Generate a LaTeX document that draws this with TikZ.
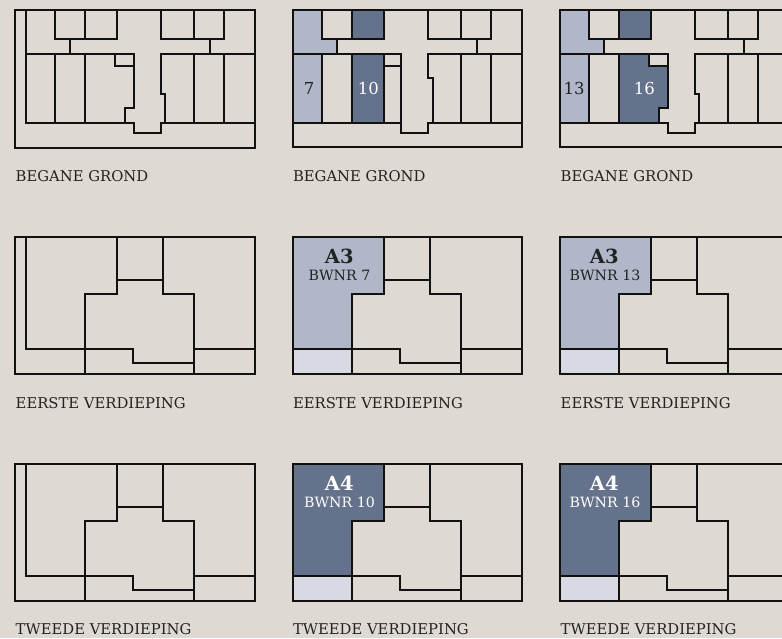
\documentclass[tikz,border=0pt]{standalone}
\usepackage{fontspec}
\setmainfont{DejaVu Serif}
\definecolor{bgc}{RGB}{223,217,211}
\definecolor{lightf}{RGB}{177,183,201}
\definecolor{darkf}{RGB}{101,114,139}
\definecolor{palef}{RGB}{216,218,227}
\definecolor{ink}{RGB}{17,17,17}
\definecolor{txt}{RGB}{34,34,34}
\newcommand\groundcommon{%
  \draw[wall] (55,9.7)--(55,39.3)--(117,39.3)--(117,9.7);
  \draw[wall] (85.3,9.7)--(85.3,39.3);
  \draw[wall] (160.7,9.7)--(160.7,39.3)--(224,39.3)--(224,9.7);
  \draw[wall] (194.3,9.7)--(194.3,39.3);
  \draw[wall] (70,39.3)--(70,53.7);
  \draw[wall] (210,39.3)--(210,53.7);
  \draw[wall] (25.7,53.7)--(133.7,53.7);
  \draw[wall] (160.7,53.7)--(255,53.7);
  \draw[wall] (55,53.7)--(55,122.7);
  \draw[wall] (85.3,53.7)--(85.3,122.7);
  \draw[wall] (194.3,53.7)--(194.3,122.7);
  \draw[wall] (224,53.7)--(224,122.7);
  \draw[wall] (25.7,122.7)--(133.7,122.7)--(133.7,133.3)--(160.7,133.3)--(160.7,122.7)--(255,122.7);
}
\newcommand\corridorA{%
  \draw[wall] (133.7,53.7)--(133.7,108)--(124.7,108)--(124.7,122.7);
  \draw[wall] (115.3,53.7)--(115.3,65.7)--(133.7,65.7);
  \draw[wall] (160.7,53.7)--(160.7,94.3)--(164.7,94.3)--(164.7,122.7);
}
\newcommand\upcommon{%
  \draw[wall] (117,236.7)--(117,294.3)--(85.3,294.3)--(85.3,373.7);
  \draw[wall] (117,279.7)--(162.7,279.7);
  \draw[wall] (162.7,236.7)--(162.7,294.3)--(194.3,294.3)--(194.3,373.7);
  \draw[wall] (85.3,348.7)--(133.3,348.7)--(133.3,362.7)--(194.3,362.7);
  \draw[wall] (194.3,348.7)--(255,348.7);
}
\newcommand\upunit[1]{%
  \fill[#1] (25.7,236.7)--(117,236.7)--(117,294.3)--(85.3,294.3)--(85.3,348.7)--(25.7,348.7)--cycle;
  \fill[palef] (25.7,348.7) rectangle (85.3,373.7);
  \upcommon
  \draw[wall] (25.7,348.7)--(85.3,348.7);
  \draw[wall] (25.7,236.7) rectangle (255,373.7);
}
\begin{document}
\begin{tikzpicture}[x=1pt,y=-1pt,
  wall/.style={line width=1.8pt, draw=ink, line join=miter, line cap=rect},
  lbl/.style={anchor=west, inner sep=0pt, text=txt, font=\fontsize{14.8}{14.8}\selectfont},
  num/.style={inner sep=0pt, font=\fontsize{16.5}{16.5}\selectfont},
  big/.style={inner sep=0pt, font=\fontsize{19.5}{19.5}\selectfont\bfseries},
  sub/.style={inner sep=0pt, font=\fontsize{14.2}{14.2}\selectfont}]
\useasboundingbox (0,0) rectangle (782,638);
\fill[bgc] (0,0) rectangle (782,638);
\clip (0,0) rectangle (782,638);
% ---------- ground floor ----------
% plan 1
\groundcommon
\corridorA
\draw[wall] (25.7,9.7)--(25.7,122.7);
\draw[wall] (14.7,9.7) rectangle (255,147.7);
% plan 2
\begin{scope}[shift={(267,0)}]
  \fill[lightf] (25.7,9.7)--(55,9.7)--(55,39.3)--(70,39.3)--(70,53.7)--(55,53.7)--(55,122.7)--(25.7,122.7)--cycle;
  \fill[darkf] (85.3,9.7) rectangle (117,39.3);
  \fill[darkf] (85.3,53.7) rectangle (117,122.7);
  \groundcommon
  \draw[wall] (133.7,53.7)--(133.7,122.7);
  \draw[wall] (117,53.7)--(117,122.7);
  \draw[wall] (117,66)--(133.7,66);
  \draw[wall] (160.7,53.7)--(160.7,78.3)--(166,78.3)--(166,122.7);
  \draw[wall] (25.7,9.7) rectangle (255.3,147.3);
\end{scope}
% plan 3
\begin{scope}[shift={(534,0)}]
  \fill[lightf] (25.7,9.7)--(55,9.7)--(55,39.3)--(70,39.3)--(70,53.7)--(55,53.7)--(55,122.7)--(25.7,122.7)--cycle;
  \fill[darkf] (85.3,9.7) rectangle (117,39.3);
  \fill[darkf] (85.3,53.7)--(115.3,53.7)--(115.3,65.7)--(133.7,65.7)--(133.7,108)--(124.7,108)--(124.7,122.7)--(85.3,122.7)--cycle;
  \groundcommon
  \corridorA
  \draw[wall] (25.7,9.7) rectangle (255,147.3);
\end{scope}
\node[num, text=txt] (n7) at (309,88.3) {7};
\node[num, text=white] (n10) at (368.3,88.3) {10};
\node[num, text=txt] (n13) at (574,88.3) {13};
\node[num, text=white] (n16) at (644.3,88.3) {16};
% ---------- upper floors ----------
\upcommon
\draw[wall] (25.7,236.7)--(25.7,348.7)--(85.3,348.7);
\draw[wall] (14.7,236.7) rectangle (255,373.7);
\begin{scope}[shift={(0,227)}]
  \upcommon
  \draw[wall] (25.7,236.7)--(25.7,348.7)--(85.3,348.7);
  \draw[wall] (14.7,236.7) rectangle (255,373.7);
\end{scope}
\begin{scope}[shift={(267,0)}]\upunit{lightf}\end{scope}
\begin{scope}[shift={(534,0)}]\upunit{lightf}\end{scope}
\begin{scope}[shift={(267,227)}]\upunit{darkf}\end{scope}
\begin{scope}[shift={(534,227)}]\upunit{darkf}\end{scope}
\node[big, text=txt] (a3a) at (339.3,256.2) {A3};
\node[sub, text=txt] (b7) at (339.5,275.8) {BWNR 7};
\node[big, text=txt] (a3b) at (604.3,256.2) {A3};
\node[sub, text=txt] (b13) at (605,275.8) {BWNR 13};
\node[big, text=white] (a4a) at (339.3,483.2) {A4};
\node[sub, text=white] (b10) at (339.5,502.8) {BWNR 10};
\node[big, text=white] (a4b) at (604.3,483.2) {A4};
\node[sub, text=white] (b16) at (605,502.8) {BWNR 16};
% ---------- labels ----------
\node[lbl] (l11) at (15.5,175.7) {BEGANE GROND};
\node[lbl] (l12) at (292.8,175.7) {BEGANE GROND};
\node[lbl] (l13) at (560.5,175.7) {BEGANE GROND};
\node[lbl] (l21) at (15.5,402.7) {EERSTE VERDIEPING};
\node[lbl] (l22) at (292.8,402.7) {EERSTE VERDIEPING};
\node[lbl] (l23) at (560.5,402.7) {EERSTE VERDIEPING};
\node[lbl] (l31) at (15.5,629.2) {TWEEDE VERDIEPING};
\node[lbl] (l32) at (292.8,629.2) {TWEEDE VERDIEPING};
\node[lbl] (l33) at (560.5,629.2) {TWEEDE VERDIEPING};
\end{tikzpicture}
\end{document}
